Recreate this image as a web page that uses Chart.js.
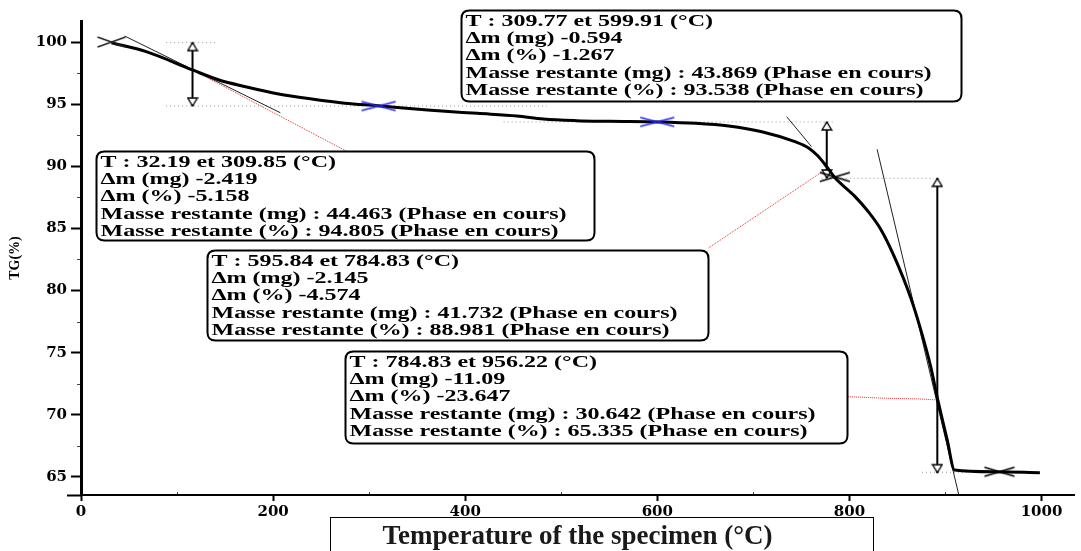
<!DOCTYPE html>
<html>
<head>
<meta charset="utf-8">
<script src="https://cdn.jsdelivr.net/npm/chart.js@4"></script>
<style>
html,body{margin:0;padding:0;background:#fff;}
canvas{display:block;}
</style>
</head>
<body>
<canvas id="c" width="1081" height="551" style="width:1081px;height:551px"></canvas>
<script>
// ---------- data ----------
const xTicks = [0, 200, 400, 600, 800, 1000];
const xMinorTicks = [100, 300, 500, 700, 900];
const yTicks = [65, 70, 75, 80, 85, 90, 95, 100];
const yMinorTicks = [67.5, 72.5, 77.5, 82.5, 87.5, 92.5, 97.5];

const tgTemp = [31.7, 67.9, 116.1, 143.7, 171.3, 205.7, 240.2, 274.7, 309.1, 360.8, 412.5, 453.8, 481.4, 515.9, 550.3, 601.7, 639.9, 674.3, 708.8, 743.3, 757.1, 767.0, 776.0, 784.7, 805.4, 819.1, 833.0, 846.7, 863.9, 874.3, 884.6, 892.0, 901.8, 909.4, 950.0, 998.3];
const tgMass = [99.94, 99.22, 97.75, 96.94, 96.40, 95.82, 95.41, 95.07, 94.87, 94.53, 94.26, 94.05, 93.80, 93.67, 93.62, 93.57, 93.46, 93.24, 92.78, 91.98, 91.50, 90.85, 90.00, 89.10, 87.60, 86.40, 84.88, 82.73, 79.40, 76.83, 73.88, 71.20, 67.98, 65.57, 65.43, 65.35];

// tangent construction lines [x1,y1,x2,y2]
const tangentLines = [
  [45.5, 100.48, 207.5, 94.31],
  [734.7, 93.99, 760.5, 91.58],
  [828.8, 91.37, 913.9, 63.55]
];
// grey dotted level lines [xStart, xEnd, level]
const levelLines = [
  [88.6, 141.9, 99.95],
  [88.6, 485.0, 94.85],
  [440.0, 784.5, 93.57],
  [771.0, 888.0, 89.03],
  [875.6, 925.0, 65.38]
];
// double arrows [x, top, bottom]
const stepArrows = [
  [116.1, 99.95, 94.85],
  [776.4, 93.57, 89.06],
  [891.5, 89.03, 65.35]
];
// red leader lines (x list, y list)
const leader1X = [116.1, 276.0];   const leader1Y = [97.75, 91.23];
const leader2X = [653.4, 777.5];   const leader2Y = [83.43, 89.86];
const leader3X = [798.4, 839.8, 872.5, 891.5]; const leader3Y = [71.46, 71.33, 71.28, 71.20];

// step markers
const blueMarkX = [309.85, 599.91];  const blueMarkY = [94.85, 93.57];
const blackMarkX = [784.83, 956.22]; const blackMarkY = [89.14, 65.42];
const startMarkX = [31.7];           const startMarkY = [100.0];

// annotation texts
const boxTextA = ["T : 309.77 et 599.91 (°C)", "Δm (mg) -0.594", "Δm (%) -1.267", "Masse restante (mg) : 43.869 (Phase en cours)", "Masse restante (%) : 93.538 (Phase en cours)"];
const boxTextB = ["T : 32.19 et 309.85 (°C)", "Δm (mg) -2.419", "Δm (%) -5.158", "Masse restante (mg) : 44.463 (Phase en cours)", "Masse restante (%) : 94.805 (Phase en cours)"];
const boxTextC = ["T : 595.84 et 784.83 (°C)", "Δm (mg) -2.145", "Δm (%) -4.574", "Masse restante (mg) : 41.732 (Phase en cours)", "Masse restante (%) : 88.981 (Phase en cours)"];
const boxTextD = ["T : 784.83 et 956.22 (°C)", "Δm (mg) -11.09", "Δm (%) -23.647", "Masse restante (mg) : 30.642 (Phase en cours)", "Masse restante (%) : 65.335 (Phase en cours)"];

// ---------- helpers ----------
function pts(xs, ys){ return xs.map((x,i)=>({x:x, y:ys[i]})); }
function makeX(color, w, h, lw){
  const c = document.createElement('canvas'); c.width = w+4; c.height = h+4;
  const g = c.getContext('2d'); g.strokeStyle = color; g.lineWidth = lw;
  g.beginPath(); g.moveTo(2,2); g.lineTo(w+2,h+2); g.moveTo(2,h+2); g.lineTo(w+2,2); g.stroke();
  return c;
}
function makeHead(up){
  const c = document.createElement('canvas'); c.width = 12; c.height = 20;
  const g = c.getContext('2d'); g.fillStyle = '#fff'; g.strokeStyle = '#000'; g.lineWidth = 1.4;
  g.beginPath();
  if (up){ g.moveTo(6, 10); g.lineTo(10.8, 18); g.lineTo(1.2, 18); }
  else   { g.moveTo(6, 10); g.lineTo(10.8, 2); g.lineTo(1.2, 2); }
  g.closePath(); g.fill(); g.stroke();
  return c;
}
const blueX = makeX('#2727ee', 34, 9, 1.6);
const blackX = makeX('#000', 30, 9, 1.7);
const startX = makeX('#222', 28, 10, 1.4);
const upHead = makeHead(true), downHead = makeHead(false);

const datasets = [];
datasets.push({ data: pts(tgTemp, tgMass), borderColor:'#000', borderWidth:3, pointRadius:0, cubicInterpolationMode:'monotone', order: 1 });
tangentLines.forEach(t => datasets.push({ data:[{x:t[0],y:t[1]},{x:t[2],y:t[3]}], borderColor:'#222', borderWidth:1, pointRadius:0, order: 3 }));
levelLines.forEach(l => datasets.push({ data:[{x:l[0],y:l[2]},{x:l[1],y:l[2]}], borderColor:'#9a9a9a', borderWidth:1, borderDash:[1,3], pointRadius:0, order: 4 }));
[[leader1X,leader1Y],[leader2X,leader2Y],[leader3X,leader3Y]].forEach(p => datasets.push({ data: pts(p[0],p[1]), borderColor:'#e03030', borderWidth:1, borderDash:[1,1], pointRadius:0, order: 4 }));
stepArrows.forEach(a => datasets.push({ data:[{x:a[0],y:a[1]},{x:a[0],y:a[2]}], borderColor:'#000', borderWidth:2, pointRadius:5,
  pointStyle: (ctx) => ctx.dataIndex === 0 ? upHead : downHead, order: 2 }));
datasets.push({ data: pts(blueMarkX, blueMarkY), showLine:false, pointStyle: blueX, pointRadius:5, order: 0 });
datasets.push({ data: pts(blackMarkX, blackMarkY), showLine:false, pointStyle: blackX, pointRadius:5, order: 0 });
datasets.push({ data: pts(startMarkX, startMarkY), showLine:false, pointStyle: startX, pointRadius:5, order: 0 });

// annotation boxes (data coordinates)
const boxes = [
  { x0: 395.9, x1: 915.9, yTop: 102.57, yBot: 95.25, lines: boxTextA },
  { x0: 15.5,  x1: 534.5, yTop: 91.23,  yBot: 84.07, lines: boxTextB },
  { x0: 131.3, x1: 652.3, yTop: 83.27,  yBot: 76.03, lines: boxTextC },
  { x0: 275.0, x1: 797.1, yTop: 75.14,  yBot: 67.74, lines: boxTextD }
];
const BOX_FONT = 'bold 16px "Liberation Serif"';
const TEXT_WIDTH = 466;

function roundRect(ctx, x, y, w, h, r){
  ctx.beginPath();
  ctx.moveTo(x+r, y); ctx.lineTo(x+w-r, y); ctx.quadraticCurveTo(x+w, y, x+w, y+r);
  ctx.lineTo(x+w, y+h-r); ctx.quadraticCurveTo(x+w, y+h, x+w-r, y+h);
  ctx.lineTo(x+r, y+h); ctx.quadraticCurveTo(x, y+h, x, y+h-r);
  ctx.lineTo(x, y+r); ctx.quadraticCurveTo(x, y, x+r, y); ctx.closePath();
}

const decorPlugin = {
  id: 'decor',
  beforeDraw(chart){
    const c = chart.ctx; c.save(); c.fillStyle = '#fff'; c.fillRect(0,0,chart.width,chart.height); c.restore();
  },
  afterDatasetsDraw(chart){
    const c = chart.ctx, xs = chart.scales.x, ys = chart.scales.y;
    c.save();
    c.font = BOX_FONT;
    const sx = TEXT_WIDTH / c.measureText(boxTextB[3]).width;
    boxes.forEach(b => {
      const L = Math.round(xs.getPixelForValue(b.x0)) + 0.5, R = Math.round(xs.getPixelForValue(b.x1)) + 0.5;
      const T = Math.round(ys.getPixelForValue(b.yTop)) + 0.5, B = Math.round(ys.getPixelForValue(b.yBot)) + 0.5;
      roundRect(c, L, T, R-L, B-T, 8);
      c.fillStyle = '#fff'; c.fill();
      c.lineWidth = 2; c.strokeStyle = '#000'; c.stroke();
      c.fillStyle = '#000'; c.textBaseline = 'middle'; c.textAlign = 'left';
      b.lines.forEach((t, i) => {
        c.save(); c.translate(L + 4, T + 11 + i*17.4); c.scale(sx, 1); c.fillText(t, 0, 0); c.restore();
      });
    });
    c.restore();
  },
  afterDraw(chart){
    const c = chart.ctx, xs = chart.scales.x, ys = chart.scales.y, a = chart.chartArea;
    c.save();
    // minor ticks
    c.strokeStyle = '#444'; c.lineWidth = 1;
    xMinorTicks.forEach(v => { const p = Math.round(xs.getPixelForValue(v)) + 0.5; c.beginPath(); c.moveTo(p, a.bottom - 1); c.lineTo(p, a.bottom - 3); c.stroke(); });
    yMinorTicks.forEach(v => { const p = Math.round(ys.getPixelForValue(v)) + 0.5; c.beginPath(); c.moveTo(a.left - 1, p); c.lineTo(a.left - 4, p); c.stroke(); });
    // x axis line extends left of the y axis
    c.strokeStyle = '#000'; c.lineWidth = 2;
    c.beginPath(); c.moveTo(67, a.bottom + 0.5); c.lineTo(a.left, a.bottom + 0.5); c.stroke();
    // box around x-axis title
    c.lineWidth = 1; c.strokeStyle = '#000';
    c.strokeRect(330.5, 517.5, 543, 60);
    c.restore();
  }
};

new Chart(document.getElementById('c'), {
  type: 'line',
  data: { datasets: datasets },
  options: {
    responsive: false, animation: false, parsing: true,
    layout: { padding: { top: 21, right: 0, left: 0, bottom: 0 } },
    plugins: { legend: { display: false }, tooltip: { enabled: false } },
    scales: {
      x: {
        type: 'linear', min: 0, max: 1033.8,
        afterBuildTicks: s => { s.ticks = xTicks.map(v => ({ value: v })); },
        afterFit: s => { s.height = 56; },
        border: { color: '#000', width: 2 },
        grid: { display: true, drawOnChartArea: false, drawTicks: true, tickLength: 6, tickColor: '#000', tickWidth: 2 },
        ticks: { font: { family: 'DejaVu Serif', weight: 'bold', size: 15 }, color: '#000', padding: 2, maxRotation: 0, autoSkip: false, callback: v => String(v) },
        title: { display: true, text: 'Temperature of the specimen (°C)', font: { family: 'Liberation Serif', weight: 'bold', size: 27 }, color: '#1a1a1a', padding: { top: 0, bottom: -2 } }
      },
      y: {
        type: 'linear', min: 63.55, max: 101.69,
        afterBuildTicks: s => { s.ticks = yTicks.map(v => ({ value: v })); },
        afterFit: s => { s.width = 81; },
        border: { color: '#000', width: 3 },
        grid: { display: true, drawOnChartArea: false, drawTicks: true, tickLength: 10, tickColor: '#000', tickWidth: 2 },
        ticks: { font: { family: 'DejaVu Serif', weight: 'bold', size: 15 }, color: '#000', padding: 4, callback: v => String(v) },
        title: { display: true, text: 'TG(%)', font: { family: 'Liberation Serif', weight: 'bold', size: 14 }, color: '#000', padding: { top: 7, bottom: 0 } }
      }
    }
  },
  plugins: [decorPlugin]
});
</script>
</body>
</html>
